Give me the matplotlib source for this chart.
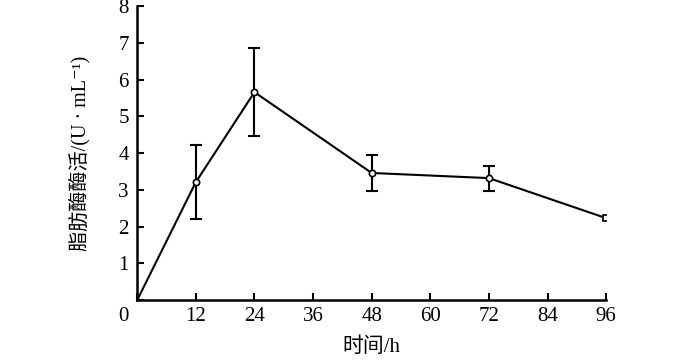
import matplotlib
matplotlib.use('Agg')
import matplotlib.pyplot as plt

# 数据
thoi_gian = [0, 12, 24, 48, 72, 96]
hoat_tinh = [0, 3.21, 5.66, 3.46, 3.32, 2.23]
sai_so = [0, 1.0, 1.2, 0.5, 0.34, 0.04]
x_ticks = [0, 12, 24, 36, 48, 60, 72, 84, 96]
y_ticks = [0, 1, 2, 3, 4, 5, 6, 7, 8]

font_so = ['Liberation Serif', 'DejaVu Serif']
font_chu = ['Liberation Serif', 'DejaVu Serif', 'Noto Sans CJK SC']

fig = plt.figure(figsize=(7, 3.62), dpi=100)
ax = fig.add_axes([0.196, 0.171, 0.67, 0.812])

ax.errorbar(thoi_gian[1:-1], hoat_tinh[1:-1], yerr=sai_so[1:-1], fmt='none',
            ecolor='black', elinewidth=1.5, capsize=4, capthick=1.5, zorder=2)
ax.errorbar(thoi_gian[-1:], hoat_tinh[-1:], yerr=sai_so[-1:], fmt='none',
            ecolor='black', elinewidth=1.2, capsize=3, capthick=1.2, zorder=2)
ax.plot(thoi_gian, hoat_tinh, color='black', lw=1.5, zorder=3)
ax.plot(thoi_gian[1:-1], hoat_tinh[1:-1], 'o', ms=4.5, mfc='white', mec='black',
        mew=1.2, zorder=4)
ax.plot(thoi_gian[-1:], hoat_tinh[-1:], 's', ms=4.5, mfc='white', mec='black',
        mew=1.2, zorder=4)

ax.set_xlim(0, 96)
ax.set_ylim(0, 8)
ax.set_xticks(x_ticks)
ax.set_yticks(y_ticks)
ax.set_xticklabels([''] + [str(v) for v in x_ticks[1:]], family=font_so, fontsize=15)
ax.set_yticklabels([''] + [str(v) for v in y_ticks[1:]], family=font_so, fontsize=15)
ax.annotate('0', xy=(0, 0), xytext=(-10, -5), textcoords='offset points',
            ha='center', va='top', family=font_so, fontsize=15)

ax.tick_params(direction='in', length=5, width=1.5, pad=6)
ax.tick_params(axis='x', pad=5)
for s in ['top', 'right']:
    ax.spines[s].set_visible(False)
for s in ['left', 'bottom']:
    ax.spines[s].set_linewidth(1.8)

ax.set_xlabel('时间/h', family=font_chu, fontsize=15, labelpad=8)
ax.set_ylabel('脂肪酶酶活/(U · mL⁻¹)', family=font_chu, fontsize=14.5, labelpad=20)

fig.savefig('out.png', dpi=100)
